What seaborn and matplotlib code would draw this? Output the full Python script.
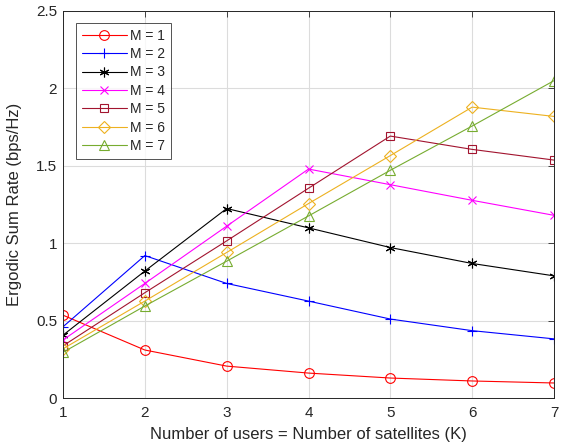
import numpy as np
import pandas as pd
import matplotlib
matplotlib.use("Agg")
import matplotlib.pyplot as plt
import seaborn as sns

# number of users = number of satellites
K = [1, 2, 3, 4, 5, 6, 7]

rate_m1 = [0.535, 0.31, 0.206, 0.161, 0.129, 0.11, 0.097]
rate_m2 = [0.46, 0.92, 0.74, 0.626, 0.51, 0.435, 0.382]
rate_m3 = [0.406, 0.82, 1.224, 1.099, 0.972, 0.869, 0.789]
rate_m4 = [0.375, 0.74, 1.11, 1.479, 1.378, 1.277, 1.18]
rate_m5 = [0.337, 0.68, 1.015, 1.355, 1.692, 1.606, 1.537]
rate_m6 = [0.318, 0.626, 0.94, 1.256, 1.566, 1.879, 1.819]
rate_m7 = [0.295, 0.594, 0.884, 1.176, 1.471, 1.757, 2.05]

labels = ["M = 1", "M = 2", "M = 3", "M = 4", "M = 5", "M = 6", "M = 7"]
series = [rate_m1, rate_m2, rate_m3, rate_m4, rate_m5, rate_m6, rate_m7]
colors = ["#ff0000", "#0000ff", "#000000", "#ff00ff",
          "#a2142f", "#edb120", "#77ac30"]
markers = ["o", "+", (6, 2, 0), "x", "s", "D", "^"]
msizes = [7, 7.5, 7, 5.5, 5.5, 6, 7.5]

sns.set_style("white")
plt.rcParams["font.family"] = ["Liberation Sans", "DejaVu Sans"]

fig = plt.figure(figsize=(5.69, 4.48), dpi=100)
ax = fig.add_axes([63 / 569, 50 / 448, 491 / 569, 387 / 448])

for lab, y, c, m, ms in zip(labels, series, colors, markers, msizes):
    sns.lineplot(x=K, y=y, ax=ax, color=c, marker=m, markersize=ms,
                 markerfacecolor="none", markeredgecolor=c,
                 markeredgewidth=0.8, linewidth=0.8, label=lab)

ax.set_xlim(1, 7)
ax.set_ylim(0, 2.5)
ax.set_xticks(K)
ax.set_yticks([0, 0.5, 1, 1.5, 2, 2.5])
ax.set_yticklabels(["0", "0.5", "1", "1.5", "2", "2.5"])
ax.grid(True, color="#dcdcdc", linewidth=0.8)
ax.tick_params(direction="in", top=True, right=True, length=4,
               labelsize=11, colors="#262626", width=0.6)
ax.tick_params(axis="x", pad=5.5)
ax.tick_params(axis="y", pad=4.3)
for s in ax.spines.values():
    s.set_color("#262626")
    s.set_linewidth(0.7)

ax.set_xlabel("Number of users = Number of satellites (K)", fontsize=12,
              color="#262626")
ax.set_ylabel("Ergodic Sum Rate (bps/Hz)", fontsize=12, color="#262626")
ax.xaxis.set_label_coords(0.5, -0.075)
ax.yaxis.set_label_coords(-0.083, 0.5)

leg = ax.legend(loc="upper left", bbox_to_anchor=(0.0265, 0.969),
                fontsize=10, frameon=True, fancybox=False,
                edgecolor="#262626", handlelength=3.3, handletextpad=0.2,
                borderaxespad=0, labelspacing=0.32, borderpad=0.4)
leg.get_frame().set_linewidth(0.7)

fig.savefig("out.png", dpi=100)
